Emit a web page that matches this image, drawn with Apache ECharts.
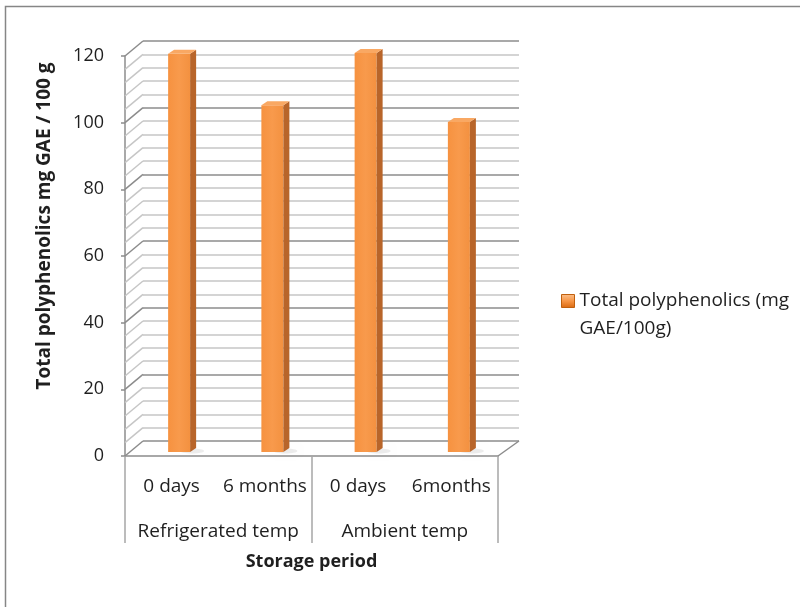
<!DOCTYPE html>
<html>
<head>
<meta charset="utf-8">
<title>Total polyphenolics during storage</title>
<script src="https://cdn.jsdelivr.net/npm/echarts@6/dist/echarts.min.js"></script>
<style>
  html, body { margin: 0; padding: 0; background: #ffffff; }
  #chart { width: 800px; height: 607px; }
</style>
</head>
<body>
<div id="chart"></div>
<script>
// Storage period categories (inner row) and storage temperature groups (outer row)
const categories = ['0 days', '6 months', '0 days', '6months'];
const groups = ['Refrigerated temp', 'Ambient temp'];
// Total polyphenolics, mg GAE / 100 g
const values = [119.5, 104, 119.7, 99];
const seriesName = 'Total polyphenolics (mg GAE/100g)';
// Value axis range and steps
const yMin = 0, yMax = 120, yStep = 20, wallStep = 4;

const FONT = '"Open Sans", "Noto Sans", sans-serif';
const TEXT = '#1f1f1f';
const MAJOR = '#8c8c8c';
const MINOR = '#c6c6c6';

// depth offset between the front plane and the back wall
const DX = 18, DY = -15;

const wallTicks = [];
for (let v = yMin; v <= yMax; v += wallStep) wallTicks.push([0, v]);

const chart = echarts.init(document.getElementById('chart'), null, { renderer: 'canvas' });

const option = {
  backgroundColor: '#ffffff',
  animation: false,
  textStyle: { fontFamily: FONT },
  grid: [
    { left: 125, top: 56, width: 373, height: 400 },   // front plane
    { left: 143, top: 41, width: 376, height: 400 }    // back wall
  ],
  xAxis: [
    {
      gridIndex: 0, type: 'category', data: categories, position: 'bottom',
      axisLine: { lineStyle: { color: MAJOR, width: 1.5 } },
      axisTick: { show: false },
      axisLabel: { interval: 0, fontSize: 19, color: TEXT, margin: 21, fontFamily: FONT }
    },
    {
      gridIndex: 0, type: 'category', data: groups, position: 'bottom',
      axisLine: { show: false },
      axisTick: { show: true, interval: 0, length: 87, lineStyle: { color: '#a6a6a6', width: 1.5 } },
      axisLabel: { interval: 0, fontSize: 19, color: TEXT, margin: 66, fontFamily: FONT },
      name: 'Storage period', nameLocation: 'middle', nameGap: 97,
      nameTextStyle: { fontSize: 18, fontWeight: 'bold', color: TEXT, fontFamily: FONT }
    },
    { gridIndex: 1, type: 'category', data: categories, show: false }
  ],
  yAxis: [
    {
      gridIndex: 0, type: 'value', min: yMin, max: yMax, interval: yStep,
      axisLine: { show: true, lineStyle: { color: MAJOR, width: 1.5 } },
      axisTick: { show: true, length: 4, lineStyle: { color: MAJOR, width: 1.5 } },
      axisLabel: { fontSize: 18, color: TEXT, margin: 21, fontFamily: FONT },
      splitLine: { show: false }
    },
    {
      gridIndex: 1, type: 'value', min: yMin, max: yMax, interval: yStep,
      axisLine: { show: false }, axisTick: { show: false }, axisLabel: { show: false },
      splitLine: { show: true, lineStyle: { color: MAJOR, width: 1.5 } },
      minorTick: { show: false, splitNumber: yStep / wallStep },
      minorSplitLine: { show: true, lineStyle: { color: MINOR, width: 1.5 } }
    }
  ],
  legend: {
    left: 561, top: 259,
    padding: 0,
    orient: 'vertical',
    itemWidth: 13, itemHeight: 13,
    icon: 'rect',
    // first text line sits beside the marker, the rest wraps below it
    formatter: name => ' \n' + name.replace(' GAE', '\nGAE'),
    textStyle: { fontSize: 19, color: TEXT, lineHeight: 28, fontFamily: FONT },
    data: [{
      name: seriesName,
      itemStyle: {
        color: new echarts.graphic.LinearGradient(0, 0, 0, 1, [
          { offset: 0, color: '#fbc08c' }, { offset: 0.5, color: '#f79646' }, { offset: 1, color: '#d9680f' }
        ]),
        borderColor: '#c0600e', borderWidth: 1
      }
    }]
  },
  graphic: [
    {
      type: 'rect', silent: true, z: -10,
      shape: { x: 5.5, y: 6.5, width: 900, height: 800 },
      style: { fill: 'none', stroke: '#868686', lineWidth: 1.5 }
    },
    {
      type: 'text', silent: true,
      x: 45, y: 226, rotation: Math.PI / 2,
      style: {
        text: 'Total polyphenolics mg GAE / 100 g',
        fontSize: 19, fontWeight: 'bold', fill: TEXT, fontFamily: FONT,
        align: 'center', verticalAlign: 'middle'
      }
    }
  ],
  series: [
    {
      // side wall and floor edges joining the front plane to the back wall
      type: 'custom', name: 'wall', xAxisIndex: 0, yAxisIndex: 0,
      silent: true, clip: false, z: 1,
      data: wallTicks,
      renderItem: (params, api) => {
        const v = api.value(1);
        const cs = params.coordSys;
        const y = api.coord([0, v])[1];
        const major = v % yStep === 0;
        const children = [{
          type: 'line',
          shape: { x1: cs.x, y1: y, x2: cs.x + DX, y2: y + DY },
          style: { stroke: major ? MAJOR : MINOR, lineWidth: 1.5 }
        }];
        if (v === yMin) {
          children.push({
            type: 'line',
            shape: { x1: cs.x + cs.width, y1: y, x2: cs.x + cs.width + DX + 3, y2: y + DY },
            style: { stroke: MAJOR, lineWidth: 1.5 }
          });
        }
        return { type: 'group', children };
      }
    },
    {
      type: 'custom', name: seriesName, xAxisIndex: 0, yAxisIndex: 0,
      clip: false, z: 3,
      itemStyle: { color: '#f79646' },
      data: values.map((v, i) => [i, v]),
      renderItem: (params, api) => {
        const i = api.value(0), v = api.value(1);
        const base = api.coord([i, 0]);
        const top = api.coord([i, v]);
        const cx = base[0] + 7.5;
        const y0 = base[1] - 4, y1 = top[1] - 4;
        const hw = 11, dx = 6, dy = -4;
        return {
          type: 'group',
          children: [
            { // soft shadow on the floor
              type: 'ellipse',
              shape: { cx: cx + 13, cy: y0 - 1, rx: 12, ry: 2.5 },
              style: { fill: 'rgba(0,0,0,0.07)', shadowBlur: 6, shadowColor: 'rgba(0,0,0,0.18)' }
            },
            { // front face
              type: 'rect',
              shape: { x: cx - hw, y: y1, width: hw * 2, height: y0 - y1 },
              style: {
                fill: new echarts.graphic.LinearGradient(0, 0, 1, 0, [
                  { offset: 0, color: '#f69240' }, { offset: 0.5, color: '#f89a4c' }, { offset: 1, color: '#f39140' }
                ])
              }
            },
            { // side face
              type: 'polygon',
              shape: { points: [[cx + hw, y1], [cx + hw + dx, y1 + dy], [cx + hw + dx, y0 + dy], [cx + hw, y0]] },
              style: { fill: '#b8652a' }
            },
            { // top face
              type: 'polygon',
              shape: { points: [[cx - hw, y1], [cx + hw, y1], [cx + hw + dx, y1 + dy], [cx - hw + dx, y1 + dy]] },
              style: { fill: '#f9a863' }
            }
          ]
        };
      }
    }
  ]
};

chart.setOption(option);
</script>
</body>
</html>
